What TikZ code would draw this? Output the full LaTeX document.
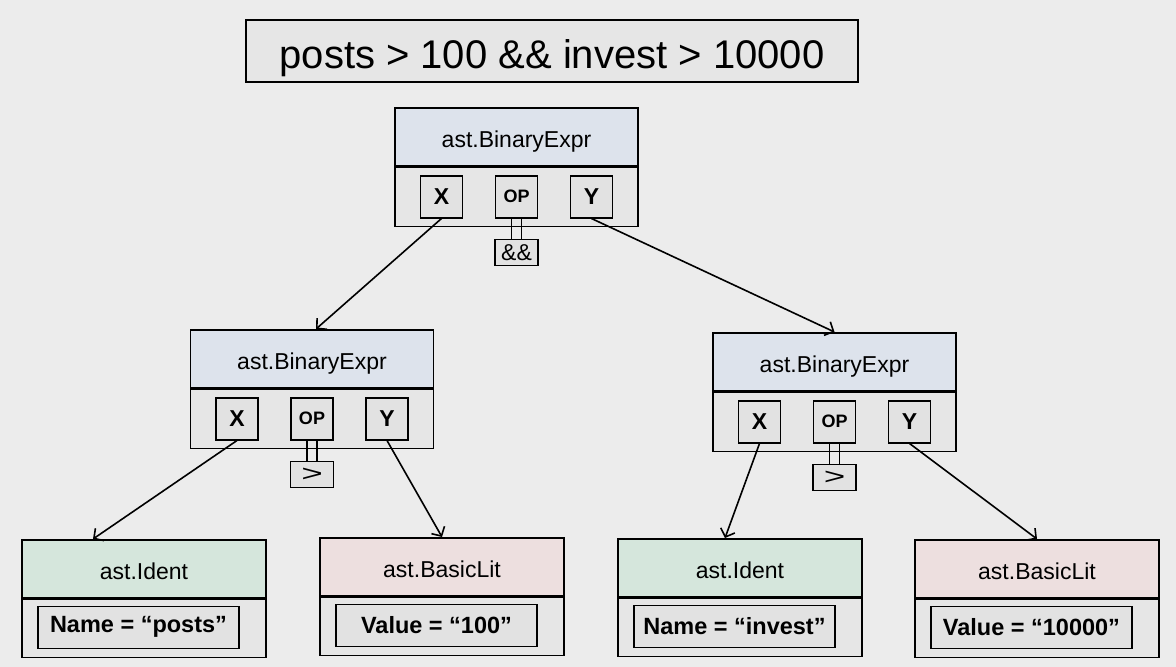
\documentclass[tikz,border=0pt]{standalone}
\usepackage{fontspec}
\setmainfont{Liberation Sans}
\usetikzlibrary{arrows.meta}
\definecolor{bg}{HTML}{ECECEC}
\definecolor{bodyc}{HTML}{E6E6E6}
\definecolor{boxc}{HTML}{E2E2E2}
\definecolor{bluec}{HTML}{DDE3EC}
\definecolor{greenc}{HTML}{D5E6DC}
\definecolor{pinkc}{HTML}{EDDFDF}
\tikzset{
  hdr/.style={draw=black, line width=1.5pt, minimum width=243pt, minimum height=58pt, inner sep=0pt, anchor=north, text height=21pt, text depth=0pt, font=\fontsize{23}{23}\selectfont},
  bodyb/.style={draw=black, line width=1.5pt, fill=bodyc, minimum width=243pt, minimum height=59pt, inner sep=0pt, anchor=north},
  field/.style={draw=black, line width=1.5pt, fill=boxc, minimum width=42pt, minimum height=42pt, inner sep=0pt, font=\fontsize{23}{23}\bfseries},
  opfont/.style={font=\fontsize{18}{18}\bfseries},
  oplab/.style={draw=black, line width=1.2pt, fill=boxc, minimum width=43pt, minimum height=26pt, inner sep=0pt, anchor=north, font=\fontsize{23}{23}\selectfont},
  valbox/.style={draw=black, line width=1.5pt, fill=boxc, minimum width=201pt, minimum height=42pt, inner sep=0pt, anchor=north west, font=\fontsize{23.5}{23.5}\bfseries},
  link/.style={line width=1.6pt, -{Straight Barb[length=7pt,width=15pt]}},
  twin/.style={line width=1.2pt}
}
\newcommand\binexpr[4]{%
  \node[hdr, fill=bluec] (#1h) at (#2,#3) {ast.BinaryExpr};
  \node[bodyb] (#1b) at (#1h.south) {};
  \node[field] (#1x) at ([xshift=-75pt]#1b.center) {X};
  \node[field, opfont] (#1o) at (#1b.center) {OP};
  \node[field] (#1y) at ([xshift=75pt]#1b.center) {Y};
  \node[oplab] (#1l) at ([yshift=-12pt]#1b.south) {#4};
  \draw[twin] ([xshift=-5pt]#1o.south) -- ([xshift=-5pt]#1l.north);
  \draw[twin] ([xshift=5pt]#1o.south) -- ([xshift=5pt]#1l.north);
}
\newcommand\leafnode[6]{%
  \node[hdr, minimum width=244pt, fill=#4] (#1h) at (#2,#3) {#5};
  \node[bodyb, minimum width=244pt, minimum height=58pt] (#1b) at (#1h.south) {};
  \node[valbox] (#1v) at ([xshift=16pt,yshift=-7pt]#1b.north west) {#6};
}
\begin{document}
\begin{tikzpicture}[x=1pt, y=-1pt]
\useasboundingbox (0,0) rectangle (1176,667);
\fill[bg] (0,0) rectangle (1176,667);

\node[draw=black, line width=1.4pt, fill=bodyc, minimum width=612pt, minimum height=62pt, inner sep=0pt, text height=34pt, text depth=0pt, font=\fontsize{40}{40}\selectfont] (title) at (552,51) {posts > 100 \&\& invest > 10000};

\binexpr{t}{516.5}{107}{\&\&}
\binexpr{l}{312}{329}{\scalebox{1.6}[1]{>}}
\binexpr{r}{834.5}{332}{\scalebox{1.6}[1]{>}}

\leafnode{li}{144}{539}{greenc}{ast.Ident}{Name = “posts”}
\leafnode{lb}{442}{537}{pinkc}{ast.BasicLit}{Value = “100”}
\leafnode{ri}{740}{538}{greenc}{ast.Ident}{Name = “invest”}
\leafnode{rb}{1037}{539}{pinkc}{ast.BasicLit}{Value = “10000”}

\draw[link] (tx.south) -- ([xshift=4pt]lh.north);
\draw[link] (ty.south) -- (rh.north);
\draw[link] (lx.south) -- ([xshift=-51pt]lih.north);
\draw[link] (ly.south) -- (lbh.north);
\draw[link] (rx.south) -- ([xshift=-15pt]rih.north);
\draw[link] (ry.south) -- (rbh.north);
\end{tikzpicture}
\end{document}
